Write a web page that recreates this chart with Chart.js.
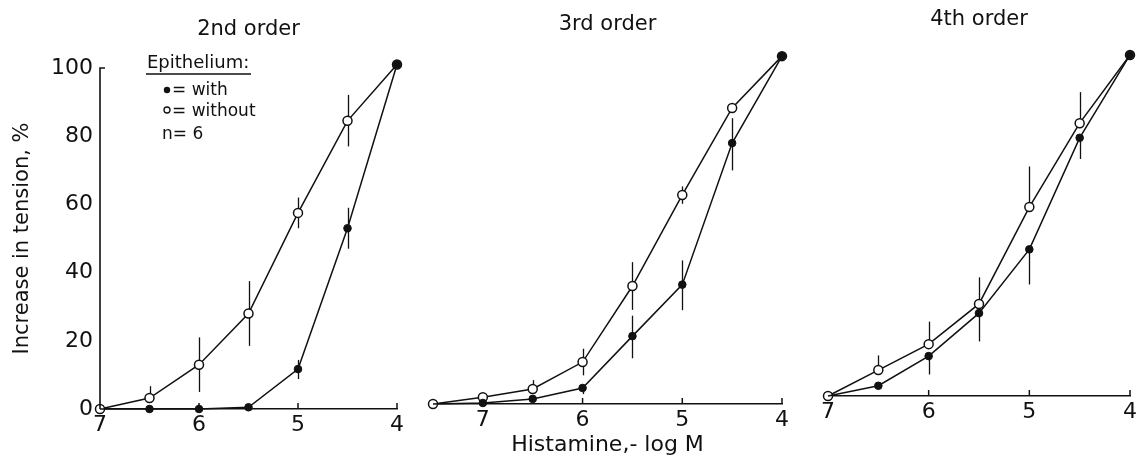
<!DOCTYPE html>
<html>
<head>
<meta charset="utf-8">
<script src="https://cdn.jsdelivr.net/npm/chart.js@4"></script>
<style>
  html, body { margin: 0; background: #fff; }
  #wrap { position: relative; width: 1138px; height: 461px; }
  #wrap canvas { position: absolute; left: 0; top: 0; }
</style>
</head>
<body>
<div id="wrap">
  <canvas id="order2" width="1138" height="461"></canvas>
  <canvas id="order3" width="1138" height="461"></canvas>
  <canvas id="order4" width="1138" height="461"></canvas>
</div>
<script>
// Histamine (-log M) vs. increase in tension (%), with / without epithelium
const xTicks = [7, 6, 5, 4];
const yTicks = [0, 20, 40, 60, 80, 100];

// 2nd order
const doses2 = [7, 6.5, 6, 5.5, 5, 4.5, 4];
const without2 = [0, 3.2, 13, 28, 57.5, 84.5, 101];
const without2Up = [0, 3.5, 8, 9.5, 4.5, 7.6, 0];
const without2Down = [0, 0, 8, 9.5, 4.5, 7.5, 0];
const with2 = [0, 0, 0, 0.5, 11.7, 53, 101];
const with2Up = [0, 0, 0, 0, 2.7, 6, 0];
const with2Down = [0, 0, 0, 0, 2.9, 6, 0];

// 3rd order
const doses3 = [7.5, 7, 6.5, 6, 5.5, 5, 4.5, 4];
const without3 = [0, 2, 4.4, 12.3, 34.6, 61.3, 86.8, 102];
const without3Up = [0, 0, 2.6, 3.9, 7, 2.5, 0, 0];
const without3Down = [0, 0, 0, 3.9, 7, 2.6, 0, 0];
const with3 = [0, 0.3, 1.5, 4.7, 19.9, 35, 76.5, 102];
const with3Up = [0, 0, 0, 0, 6, 7.1, 7.3, 0];
const with3Down = [0, 0, 0, 1.8, 6.5, 7.5, 8, 0];

// 4th order
const doses4 = [7, 6.5, 6, 5.5, 5, 4.5, 4];
const without4 = [0, 7.6, 15.2, 27, 55.4, 80, 100];
const without4Up = [0, 4.3, 6.6, 7.8, 11.9, 9.1, 0];
const without4Down = [0, 0, 0, 0, 0, 0, 0];
const with4 = [0, 3, 11.7, 24.3, 43, 75.7, 100];
const with4Up = [0, 0, 0, 0, 0, 0, 0];
const with4Down = [0, 0, 5.4, 8.3, 10.3, 6.2, 0];

const FONT = 'DejaVu Sans';
const INK = '#111';
const Y_TOP = 106; // headroom so the 100% points are not culled

// vertical SEM bars, drawn under the markers
const errorBars = {
  id: 'errorBars',
  beforeDatasetsDraw(chart) {
    const { ctx, scales: { x, y } } = chart;
    ctx.save();
    ctx.strokeStyle = INK;
    ctx.lineWidth = 1.3;
    chart.data.datasets.forEach(ds => {
      ds.data.forEach((p, i) => {
        const up = ds.errUp[i], down = ds.errDown[i];
        if (!up && !down) return;
        const px = Math.round(x.getPixelForValue(p.x)) + 0.5;
        ctx.beginPath();
        ctx.moveTo(px, y.getPixelForValue(p.y + up));
        ctx.lineTo(px, y.getPixelForValue(p.y - down));
        ctx.stroke();
      });
    });
    ctx.restore();
  }
};

// panel title, inward tick marks, the y axis line + title and the key
const panelDecor = {
  id: 'panelDecor',
  afterDraw(chart, args, opts) {
    const { ctx, chartArea: a, scales: { x, y } } = chart;
    ctx.save();
    ctx.fillStyle = INK;
    ctx.strokeStyle = INK;
    ctx.lineWidth = 1.5;

    ctx.font = `21px "${FONT}"`;
    ctx.textAlign = 'center';
    ctx.textBaseline = 'alphabetic';
    ctx.fillText(opts.title, (a.left + a.right) / 2, opts.titleY);

    xTicks.filter(v => v < 7).forEach(v => {
      const px = x.getPixelForValue(v);
      ctx.beginPath();
      ctx.moveTo(px, a.bottom);
      ctx.lineTo(px, a.bottom - 6);
      ctx.stroke();
    });

    if (opts.key) {
      const top = y.getPixelForValue(100);
      ctx.lineWidth = 1.6;
      ctx.beginPath();
      ctx.moveTo(a.left + 5, top);
      ctx.lineTo(a.left, top);
      ctx.lineTo(a.left, a.bottom);
      ctx.stroke();

      // axis title, centred on the 0-100 span
      ctx.save();
      ctx.translate(23, (top + a.bottom) / 2);
      ctx.rotate(-Math.PI / 2);
      ctx.textBaseline = 'middle';
      ctx.font = `21px "${FONT}"`;
      ctx.fillText('Increase in tension, %', 0, 0);
      ctx.restore();

      ctx.lineWidth = 1.5;
      ctx.textAlign = 'left';
      ctx.font = `18px "${FONT}"`;
      ctx.fillText('Epithelium:', 147, 68);
      ctx.beginPath();
      ctx.moveTo(146, 74);
      ctx.lineTo(251, 74);
      ctx.stroke();

      ctx.font = `17px "${FONT}"`;
      ctx.beginPath();
      ctx.arc(167, 90, 3.2, 0, Math.PI * 2);
      ctx.fill();
      ctx.fillText('= with', 172, 95);

      ctx.lineWidth = 1.3;
      ctx.beginPath();
      ctx.arc(167, 110, 3, 0, Math.PI * 2);
      ctx.stroke();
      ctx.fillText('= without', 172, 116);

      ctx.fillText('n= 6', 162, 139);
    }
    ctx.restore();
  }
};

function buildPanel(id, p) {
  const pts = vals => p.doses.map((d, i) => ({ x: d, y: vals[i] }));
  const tickFont = { family: FONT, size: 22 };

  return new Chart(document.getElementById(id), {
    type: 'line',
    data: {
      datasets: [
        {
          label: 'with',
          data: pts(p.withEp),
          errUp: p.withUp,
          errDown: p.withDown,
          borderColor: INK,
          borderWidth: 1.5,
          pointRadius: c => (c.dataIndex === 0 ? 0 : 3.8),
          pointBorderWidth: 1,
          pointBackgroundColor: INK,
          pointBorderColor: INK,
          tension: 0,
          clip: false
        },
        {
          label: 'without',
          data: pts(p.without),
          errUp: p.withoutUp,
          errDown: p.withoutDown,
          borderColor: INK,
          borderWidth: 1.5,
          pointRadius: 4.5,
          pointBorderWidth: 1.5,
          pointBackgroundColor: '#fff',
          pointBorderColor: INK,
          tension: 0,
          clip: false
        }
      ]
    },
    options: {
      responsive: false,
      animation: false,
      devicePixelRatio: 1,
      events: [],
      layout: { padding: p.padding },
      plugins: {
        legend: { display: false },
        tooltip: { enabled: false },
        panelDecor: { title: p.title, titleY: p.titleY, key: !!p.yAxis }
      },
      scales: {
        x: {
          type: 'linear',
          reverse: true,
          min: 4,
          max: p.doses[0],
          afterBuildTicks: s => { s.ticks = xTicks.map(v => ({ value: v })); },
          afterFit: s => { s.height = p.xHeight; },
          grid: { display: false },
          border: { display: true, color: INK, width: 1.6 },
          ticks: { color: INK, font: tickFont, padding: -5, maxRotation: 0, autoSkip: false },
          title: {
            display: !!p.xTitle,
            text: p.xTitle || '',
            color: INK,
            font: { family: FONT, size: 22 },
            padding: { top: 0, bottom: 3 }
          }
        },
        y: {
          display: !!p.yAxis,
          min: 0,
          max: Y_TOP,
          afterBuildTicks: s => { s.ticks = yTicks.map(v => ({ value: v })); },
          afterFit: s => { s.width = p.yAxis ? 100 : 0; },
          grid: { display: false },
          border: { display: false },
          ticks: { color: INK, font: tickFont, padding: -1 }
        }
      }
    },
    plugins: [errorBars, panelDecor]
  });
}

buildPanel('order2', {
  title: '2nd order', titleY: 35, yAxis: true,
  doses: doses2, without: without2, withoutUp: without2Up, withoutDown: without2Down,
  withEp: with2, withUp: with2Up, withDown: with2Down,
  padding: { left: 0, right: 741, top: 47.5, bottom: 0 }, xHeight: 52
});

buildPanel('order3', {
  title: '3rd order', titleY: 30, xTitle: 'Histamine,- log M',
  doses: doses3, without: without3, withoutUp: without3Up, withoutDown: without3Down,
  withEp: with3, withUp: with3Up, withDown: with3Down,
  padding: { left: 433, right: 356, top: 42.5, bottom: 0 }, xHeight: 57
});

buildPanel('order4', {
  title: '4th order', titleY: 25,
  doses: doses4, without: without4, withoutUp: without4Up, withoutDown: without4Down,
  withEp: with4, withUp: with4Up, withDown: with4Down,
  padding: { left: 828, right: 8, top: 34.5, bottom: 0 }, xHeight: 65
});
</script>
</body>
</html>
